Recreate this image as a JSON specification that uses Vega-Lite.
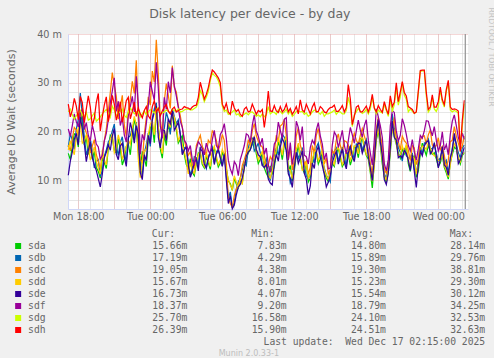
{
  "$schema": "https://vega.github.io/schema/vega-lite/v6.json",
  "background": "#F0F0F0",
  "padding": {"left": 5, "top": 6, "right": 0, "bottom": 0},
  "title": {"text": "Disk latency per device - by day", "font": "DejaVu Sans", "fontSize": 12.5, "fontWeight": "normal", "color": "#666666", "anchor": "middle", "offset": -13},
  "config": {
    "view": {"stroke": null},
    "axis": {"labelFont": "DejaVu Sans", "labelColor": "#666666", "labelFontSize": 9.7, "titleFont": "DejaVu Sans", "titleColor": "#666666", "titleFontWeight": "normal"}
  },
  "datasets": {
    "disk": [
      {"t":"2025-12-15T17:10","sda":15.5,"sdb":16.8,"sdc":17.2,"sdd":16.2,"sde":11.0,"sdf":20.5,"sdg":24.0,"sdh":25.6},
      {"t":"2025-12-15T17:20","sda":14.2,"sdb":19.5,"sdc":16.0,"sdd":18.1,"sde":13.9,"sdf":19.0,"sdg":24.6,"sdh":23.0},
      {"t":"2025-12-15T17:30","sda":17.0,"sdb":18.2,"sdc":18.5,"sdd":16.4,"sde":15.8,"sdf":21.2,"sdg":23.4,"sdh":24.3},
      {"t":"2025-12-15T17:40","sda":19.5,"sdb":16.3,"sdc":20.8,"sdd":15.2,"sde":18.4,"sdf":23.6,"sdg":22.5,"sdh":26.8},
      {"t":"2025-12-15T17:50","sda":19.2,"sdb":20.5,"sdc":20.3,"sdd":18.8,"sde":19.6,"sdf":22.0,"sdg":23.2,"sdh":25.2},
      {"t":"2025-12-15T18:00","sda":16.8,"sdb":22.4,"sdc":19.1,"sdd":20.7,"sde":17.2,"sdf":20.9,"sdg":23.8,"sdh":22.4},
      {"t":"2025-12-15T18:10","sda":24.0,"sdb":27.9,"sdc":22.6,"sdd":21.5,"sde":23.0,"sdf":23.8,"sdg":24.3,"sdh":27.2},
      {"t":"2025-12-15T18:20","sda":21.9,"sdb":23.1,"sdc":24.8,"sdd":17.6,"sde":20.4,"sdf":24.5,"sdg":23.5,"sdh":25.9},
      {"t":"2025-12-15T18:30","sda":17.2,"sdb":18.9,"sdc":21.0,"sdd":18.0,"sde":17.5,"sdf":20.4,"sdg":22.8,"sdh":21.8},
      {"t":"2025-12-15T18:40","sda":18.8,"sdb":15.2,"sdc":19.7,"sdd":19.4,"sde":13.8,"sdf":21.8,"sdg":23.9,"sdh":24.6},
      {"t":"2025-12-15T18:50","sda":15.3,"sdb":16.6,"sdc":18.4,"sdd":16.7,"sde":16.1,"sdf":19.2,"sdg":22.3,"sdh":27.3},
      {"t":"2025-12-15T19:00","sda":17.2,"sdb":18.4,"sdc":15.6,"sdd":14.1,"sde":17.8,"sdf":18.0,"sdg":22.6,"sdh":25.0},
      {"t":"2025-12-15T19:10","sda":14.3,"sdb":15.9,"sdc":17.0,"sdd":15.4,"sde":14.6,"sdf":21.3,"sdg":23.2,"sdh":21.2},
      {"t":"2025-12-15T19:20","sda":15.9,"sdb":12.5,"sdc":18.3,"sdd":16.8,"sde":13.1,"sdf":19.6,"sdg":23.8,"sdh":22.7},
      {"t":"2025-12-15T19:30","sda":12.6,"sdb":13.8,"sdc":15.2,"sdd":13.9,"sde":12.0,"sdf":17.4,"sdg":22.1,"sdh":25.9},
      {"t":"2025-12-15T19:40","sda":11.8,"sdb":14.2,"sdc":13.9,"sdd":12.4,"sde":10.3,"sdf":16.8,"sdg":22.5,"sdh":27.8},
      {"t":"2025-12-15T19:50","sda":10.4,"sdb":10.8,"sdc":12.3,"sdd":11.2,"sde":8.6,"sdf":14.3,"sdg":23.0,"sdh":20.1},
      {"t":"2025-12-15T20:00","sda":14.6,"sdb":11.9,"sdc":15.0,"sdd":16.2,"sde":11.2,"sdf":15.1,"sdg":23.6,"sdh":23.0},
      {"t":"2025-12-15T20:10","sda":13.5,"sdb":14.9,"sdc":18.1,"sdd":14.2,"sde":14.6,"sdf":18.0,"sdg":24.1,"sdh":25.4},
      {"t":"2025-12-15T20:20","sda":12.4,"sdb":16.2,"sdc":20.5,"sdd":13.1,"sde":15.7,"sdf":19.6,"sdg":24.5,"sdh":27.1},
      {"t":"2025-12-15T20:30","sda":16.5,"sdb":17.8,"sdc":24.2,"sdd":16.9,"sde":17.3,"sdf":22.4,"sdg":23.8,"sdh":22.0},
      {"t":"2025-12-15T20:40","sda":19.2,"sdb":18.6,"sdc":28.0,"sdd":18.4,"sde":16.1,"sdf":25.9,"sdg":22.9,"sdh":24.0},
      {"t":"2025-12-15T20:50","sda":18.7,"sdb":20.1,"sdc":32.1,"sdd":19.5,"sde":19.0,"sdf":28.3,"sdg":25.2,"sdh":27.4},
      {"t":"2025-12-15T21:00","sda":16.1,"sdb":21.5,"sdc":29.4,"sdd":15.6,"sde":20.6,"sdf":31.0,"sdg":24.4,"sdh":25.6},
      {"t":"2025-12-15T21:10","sda":15.6,"sdb":16.9,"sdc":27.2,"sdd":16.4,"sde":15.3,"sdf":24.1,"sdg":23.2,"sdh":22.3},
      {"t":"2025-12-15T21:20","sda":18.5,"sdb":15.1,"sdc":22.5,"sdd":19.3,"sde":14.2,"sdf":26.2,"sdg":23.7,"sdh":23.8},
      {"t":"2025-12-15T21:30","sda":16.4,"sdb":17.7,"sdc":25.0,"sdd":17.6,"sde":17.0,"sdf":21.2,"sdg":24.1,"sdh":26.1},
      {"t":"2025-12-15T21:40","sda":13.1,"sdb":18.9,"sdc":27.4,"sdd":14.2,"sde":17.6,"sdf":22.8,"sdg":24.6,"sdh":21.9},
      {"t":"2025-12-15T21:50","sda":14.4,"sdb":15.8,"sdc":21.3,"sdd":15.5,"sde":14.7,"sdf":19.3,"sdg":23.3,"sdh":24.0},
      {"t":"2025-12-15T22:00","sda":16.9,"sdb":13.7,"sdc":19.0,"sdd":16.9,"sde":12.8,"sdf":17.8,"sdg":22.9,"sdh":26.3},
      {"t":"2025-12-15T22:10","sda":17.4,"sdb":18.8,"sdc":24.1,"sdd":18.2,"sde":18.3,"sdf":23.2,"sdg":24.0,"sdh":27.0},
      {"t":"2025-12-15T22:20","sda":15.2,"sdb":19.1,"sdc":26.6,"sdd":17.4,"sde":21.8,"sdf":25.1,"sdg":24.8,"sdh":22.6},
      {"t":"2025-12-15T22:30","sda":19.5,"sdb":20.9,"sdc":30.3,"sdd":20.6,"sde":20.1,"sdf":27.2,"sdg":24.2,"sdh":24.1},
      {"t":"2025-12-15T22:40","sda":22.6,"sdb":18.4,"sdc":27.8,"sdd":23.1,"sde":17.6,"sdf":24.0,"sdg":23.6,"sdh":26.0},
      {"t":"2025-12-15T22:50","sda":20.3,"sdb":21.9,"sdc":34.6,"sdd":21.4,"sde":21.2,"sdf":31.3,"sdg":24.0,"sdh":23.1},
      {"t":"2025-12-15T23:00","sda":16.0,"sdb":17.2,"sdc":22.5,"sdd":14.3,"sde":19.4,"sdf":25.7,"sdg":24.1,"sdh":24.8},
      {"t":"2025-12-15T23:10","sda":12.1,"sdb":12.8,"sdc":14.2,"sdd":10.5,"sde":11.6,"sdf":15.3,"sdg":23.0,"sdh":23.6},
      {"t":"2025-12-15T23:20","sda":15.9,"sdb":11.0,"sdc":13.6,"sdd":13.9,"sde":10.1,"sdf":19.4,"sdg":23.6,"sdh":22.8},
      {"t":"2025-12-15T23:30","sda":14.5,"sdb":15.6,"sdc":19.4,"sdd":15.8,"sde":15.2,"sdf":18.2,"sdg":24.2,"sdh":24.3},
      {"t":"2025-12-15T23:40","sda":12.8,"sdb":17.3,"sdc":22.8,"sdd":16.4,"sde":14.0,"sdf":21.6,"sdg":23.4,"sdh":25.1},
      {"t":"2025-12-15T23:50","sda":18.6,"sdb":19.7,"sdc":27.1,"sdd":19.3,"sde":19.2,"sdf":25.3,"sdg":24.0,"sdh":23.2},
      {"t":"2025-12-16T00:00","sda":20.8,"sdb":16.9,"sdc":25.4,"sdd":21.5,"sde":17.5,"sdf":30.2,"sdg":24.5,"sdh":22.6},
      {"t":"2025-12-16T00:10","sda":21.3,"sdb":22.8,"sdc":32.4,"sdd":22.1,"sde":22.4,"sdf":28.2,"sdg":24.2,"sdh":25.1},
      {"t":"2025-12-16T00:20","sda":17.7,"sdb":24.6,"sdc":30.1,"sdd":19.3,"sde":23.9,"sdf":26.4,"sdg":23.8,"sdh":26.3},
      {"t":"2025-12-16T00:30","sda":24.1,"sdb":25.9,"sdc":38.8,"sdd":24.6,"sde":25.2,"sdf":34.2,"sdg":24.5,"sdh":24.0},
      {"t":"2025-12-16T00:40","sda":20.9,"sdb":19.8,"sdc":31.7,"sdd":21.0,"sde":18.8,"sdf":28.8,"sdg":24.9,"sdh":24.7},
      {"t":"2025-12-16T00:50","sda":16.4,"sdb":17.5,"sdc":22.3,"sdd":17.2,"sde":16.6,"sdf":21.1,"sdg":23.6,"sdh":23.2},
      {"t":"2025-12-16T01:00","sda":14.5,"sdb":19.0,"sdc":19.5,"sdd":15.4,"sde":20.3,"sdf":18.6,"sdg":23.8,"sdh":24.2},
      {"t":"2025-12-16T01:10","sda":19.3,"sdb":20.6,"sdc":26.2,"sdd":20.4,"sde":20.2,"sdf":27.0,"sdg":24.0,"sdh":25.0},
      {"t":"2025-12-16T01:20","sda":17.1,"sdb":23.9,"sdc":29.8,"sdd":18.2,"sde":18.1,"sdf":24.5,"sdg":24.4,"sdh":25.5},
      {"t":"2025-12-16T01:30","sda":21.4,"sdb":22.5,"sdc":27.4,"sdd":22.0,"sde":22.6,"sdf":30.2,"sdg":24.1,"sdh":24.2},
      {"t":"2025-12-16T01:40","sda":19.9,"sdb":19.4,"sdc":24.7,"sdd":20.8,"sde":21.6,"sdf":27.9,"sdg":23.7,"sdh":23.6},
      {"t":"2025-12-16T01:50","sda":23.5,"sdb":24.6,"sdc":33.5,"sdd":23.8,"sde":24.4,"sdf":33.1,"sdg":24.6,"sdh":24.6},
      {"t":"2025-12-16T02:00","sda":22.0,"sdb":23.1,"sdc":29.0,"sdd":22.9,"sde":20.2,"sdf":29.4,"sdg":24.2,"sdh":25.0},
      {"t":"2025-12-16T02:10","sda":20.3,"sdb":21.6,"sdc":28.1,"sdd":21.2,"sde":21.0,"sdf":27.3,"sdg":24.2,"sdh":24.0},
      {"t":"2025-12-16T02:20","sda":17.6,"sdb":22.4,"sdc":25.2,"sdd":18.1,"sde":21.9,"sdf":25.0,"sdg":24.6,"sdh":24.3},
      {"t":"2025-12-16T02:30","sda":18.4,"sdb":19.5,"sdc":23.2,"sdd":19.0,"sde":19.3,"sdf":22.1,"sdg":24.0,"sdh":24.5},
      {"t":"2025-12-16T02:40","sda":19.1,"sdb":15.8,"sdc":20.9,"sdd":17.2,"sde":15.2,"sdf":20.8,"sdg":24.1,"sdh":24.6},
      {"t":"2025-12-16T02:50","sda":15.3,"sdb":16.6,"sdc":18.3,"sdd":15.9,"sde":16.2,"sdf":18.2,"sdg":24.4,"sdh":25.1},
      {"t":"2025-12-16T03:00","sda":13.2,"sdb":16.9,"sdc":16.4,"sdd":14.0,"sde":16.8,"sdf":17.5,"sdg":24.6,"sdh":24.9},
      {"t":"2025-12-16T03:10","sda":12.4,"sdb":13.5,"sdc":15.1,"sdd":11.3,"sde":13.2,"sdf":16.0,"sdg":24.6,"sdh":24.8},
      {"t":"2025-12-16T03:20","sda":14.4,"sdb":11.0,"sdc":15.8,"sdd":13.6,"sde":10.6,"sdf":17.1,"sdg":24.4,"sdh":24.5},
      {"t":"2025-12-16T03:30","sda":11.6,"sdb":12.4,"sdc":13.2,"sdd":12.0,"sde":11.8,"sdf":14.2,"sdg":24.4,"sdh":25.0},
      {"t":"2025-12-16T03:40","sda":10.9,"sdb":14.8,"sdc":12.4,"sdd":11.4,"sde":13.6,"sdf":13.0,"sdg":24.7,"sdh":25.3},
      {"t":"2025-12-16T03:50","sda":13.5,"sdb":14.6,"sdc":17.1,"sdd":13.8,"sde":14.3,"sdf":16.3,"sdg":25.0,"sdh":25.4},
      {"t":"2025-12-16T04:00","sda":15.6,"sdb":12.8,"sdc":18.2,"sdd":15.2,"sde":11.9,"sdf":17.9,"sdg":25.9,"sdh":27.0},
      {"t":"2025-12-16T04:10","sda":15.4,"sdb":16.7,"sdc":19.2,"sdd":15.9,"sde":16.5,"sdf":17.3,"sdg":28.4,"sdh":30.1},
      {"t":"2025-12-16T04:20","sda":13.2,"sdb":16.9,"sdc":16.9,"sdd":13.6,"sde":15.9,"sdf":16.4,"sdg":27.6,"sdh":28.4},
      {"t":"2025-12-16T04:30","sda":12.5,"sdb":13.6,"sdc":16.1,"sdd":12.8,"sde":13.3,"sdf":15.2,"sdg":26.1,"sdh":26.6},
      {"t":"2025-12-16T04:40","sda":14.9,"sdb":12.4,"sdc":15.1,"sdd":15.6,"sde":12.5,"sdf":17.6,"sdg":27.0,"sdh":27.6},
      {"t":"2025-12-16T04:50","sda":13.6,"sdb":14.7,"sdc":18.2,"sdd":14.1,"sde":14.4,"sdf":16.1,"sdg":28.2,"sdh":29.0},
      {"t":"2025-12-16T05:00","sda":12.2,"sdb":15.9,"sdc":17.6,"sdd":12.8,"sde":15.8,"sdf":15.3,"sdg":30.5,"sdh":31.0},
      {"t":"2025-12-16T05:10","sda":15.5,"sdb":16.8,"sdc":20.1,"sdd":16.0,"sde":16.4,"sdf":18.3,"sdg":32.0,"sdh":32.6},
      {"t":"2025-12-16T05:20","sda":16.6,"sdb":13.5,"sdc":19.6,"sdd":17.0,"sde":13.2,"sdf":20.2,"sdg":31.5,"sdh":32.2},
      {"t":"2025-12-16T05:30","sda":14.4,"sdb":15.8,"sdc":18.2,"sdd":15.0,"sde":15.3,"sdf":17.1,"sdg":31.2,"sdh":31.6},
      {"t":"2025-12-16T05:40","sda":12.7,"sdb":16.4,"sdc":16.1,"sdd":13.2,"sde":16.2,"sdf":16.4,"sdg":30.4,"sdh":31.0},
      {"t":"2025-12-16T05:50","sda":13.5,"sdb":14.7,"sdc":17.3,"sdd":14.2,"sde":14.6,"sdf":19.4,"sdg":29.1,"sdh":30.0},
      {"t":"2025-12-16T06:00","sda":15.8,"sdb":12.9,"sdc":19.4,"sdd":16.3,"sde":12.8,"sdf":20.1,"sdg":25.2,"sdh":25.6},
      {"t":"2025-12-16T06:10","sda":14.6,"sdb":15.6,"sdc":18.1,"sdd":15.2,"sde":15.3,"sdf":21.6,"sdg":24.1,"sdh":24.6},
      {"t":"2025-12-16T06:20","sda":12.4,"sdb":10.9,"sdc":13.4,"sdd":12.1,"sde":10.1,"sdf":18.6,"sdg":24.4,"sdh":25.8},
      {"t":"2025-12-16T06:30","sda":9.8,"sdb":6.2,"sdc":6.4,"sdd":10.1,"sde":5.2,"sdf":14.1,"sdg":23.5,"sdh":24.0},
      {"t":"2025-12-16T06:40","sda":9.3,"sdb":7.6,"sdc":5.2,"sdd":9.0,"sde":6.8,"sdf":12.3,"sdg":23.7,"sdh":23.5},
      {"t":"2025-12-16T06:50","sda":7.9,"sdb":4.3,"sdc":4.4,"sdd":8.1,"sde":4.1,"sdf":11.2,"sdg":24.0,"sdh":26.2},
      {"t":"2025-12-16T07:00","sda":10.4,"sdb":5.4,"sdc":6.8,"sdd":10.9,"sde":4.9,"sdf":13.8,"sdg":24.4,"sdh":24.8},
      {"t":"2025-12-16T07:10","sda":9.2,"sdb":8.1,"sdc":8.2,"sdd":9.6,"sde":7.0,"sdf":13.1,"sdg":23.4,"sdh":24.1},
      {"t":"2025-12-16T07:20","sda":8.4,"sdb":9.6,"sdc":9.1,"sdd":8.3,"sde":8.6,"sdf":10.9,"sdg":23.6,"sdh":24.5},
      {"t":"2025-12-16T07:30","sda":10.1,"sdb":10.4,"sdc":10.3,"sdd":10.6,"sde":9.1,"sdf":14.2,"sdg":23.0,"sdh":23.5},
      {"t":"2025-12-16T07:40","sda":9.4,"sdb":12.1,"sdc":13.0,"sdd":9.1,"sde":10.5,"sdf":15.6,"sdg":23.2,"sdh":23.1},
      {"t":"2025-12-16T07:50","sda":12.7,"sdb":13.6,"sdc":14.2,"sdd":13.1,"sde":12.4,"sdf":17.1,"sdg":23.5,"sdh":24.6},
      {"t":"2025-12-16T08:00","sda":14.5,"sdb":13.0,"sdc":15.6,"sdd":14.8,"sde":14.9,"sdf":19.5,"sdg":23.8,"sdh":25.0},
      {"t":"2025-12-16T08:10","sda":15.6,"sdb":16.5,"sdc":18.3,"sdd":16.1,"sde":15.8,"sdf":19.2,"sdg":23.4,"sdh":24.0},
      {"t":"2025-12-16T08:20","sda":16.3,"sdb":18.4,"sdc":17.1,"sdd":17.0,"sde":16.2,"sdf":17.8,"sdg":23.9,"sdh":24.2},
      {"t":"2025-12-16T08:30","sda":17.4,"sdb":18.6,"sdc":20.2,"sdd":18.0,"sde":17.7,"sdf":21.3,"sdg":24.0,"sdh":25.6},
      {"t":"2025-12-16T08:40","sda":18.2,"sdb":16.0,"sdc":21.6,"sdd":18.9,"sde":18.9,"sdf":23.4,"sdg":23.6,"sdh":24.6},
      {"t":"2025-12-16T08:50","sda":15.4,"sdb":16.7,"sdc":19.1,"sdd":16.2,"sde":16.3,"sdf":20.1,"sdg":23.1,"sdh":23.5},
      {"t":"2025-12-16T09:00","sda":13.4,"sdb":17.6,"sdc":18.0,"sdd":14.1,"sde":15.2,"sdf":19.0,"sdg":23.4,"sdh":24.3},
      {"t":"2025-12-16T09:10","sda":14.3,"sdb":15.6,"sdc":17.2,"sdd":15.1,"sde":14.8,"sdf":17.2,"sdg":23.0,"sdh":24.0},
      {"t":"2025-12-16T09:20","sda":15.5,"sdb":13.1,"sdc":16.8,"sdd":15.9,"sde":13.0,"sdf":18.6,"sdg":23.6,"sdh":24.5},
      {"t":"2025-12-16T09:30","sda":12.5,"sdb":13.4,"sdc":15.1,"sdd":13.2,"sde":12.6,"sdf":15.3,"sdg":23.0,"sdh":20.8},
      {"t":"2025-12-16T09:40","sda":11.4,"sdb":14.4,"sdc":12.6,"sdd":12.6,"sde":13.2,"sdf":16.6,"sdg":23.4,"sdh":23.9},
      {"t":"2025-12-16T09:50","sda":10.6,"sdb":11.5,"sdc":13.2,"sdd":11.1,"sde":10.2,"sdf":13.1,"sdg":25.1,"sdh":28.3},
      {"t":"2025-12-16T10:00","sda":12.9,"sdb":9.9,"sdc":14.8,"sdd":10.4,"sde":9.4,"sdf":11.6,"sdg":23.6,"sdh":24.2},
      {"t":"2025-12-16T10:10","sda":11.4,"sdb":12.3,"sdc":14.1,"sdd":12.0,"sde":9.0,"sdf":14.2,"sdg":24.0,"sdh":24.1},
      {"t":"2025-12-16T10:20","sda":12.7,"sdb":14.8,"sdc":15.7,"sdd":14.2,"sde":13.4,"sdf":17.4,"sdg":23.9,"sdh":25.3},
      {"t":"2025-12-16T10:30","sda":15.4,"sdb":16.6,"sdc":19.2,"sdd":16.1,"sde":15.3,"sdf":18.1,"sdg":23.5,"sdh":24.2},
      {"t":"2025-12-16T10:40","sda":17.8,"sdb":15.1,"sdc":17.9,"sdd":18.6,"sde":13.9,"sdf":21.9,"sdg":24.4,"sdh":23.9},
      {"t":"2025-12-16T10:50","sda":16.6,"sdb":17.7,"sdc":21.1,"sdd":17.2,"sde":16.8,"sdf":20.2,"sdg":24.1,"sdh":25.1},
      {"t":"2025-12-16T11:00","sda":14.2,"sdb":19.4,"sdc":21.5,"sdd":15.1,"sde":18.6,"sdf":18.6,"sdg":23.6,"sdh":24.0},
      {"t":"2025-12-16T11:10","sda":17.3,"sdb":18.8,"sdc":22.4,"sdd":18.1,"sde":17.6,"sdf":22.5,"sdg":24.0,"sdh":24.5},
      {"t":"2025-12-16T11:20","sda":18.4,"sdb":16.4,"sdc":19.2,"sdd":19.1,"sde":16.0,"sdf":22.8,"sdg":24.5,"sdh":25.6},
      {"t":"2025-12-16T11:30","sda":11.6,"sdb":12.8,"sdc":14.2,"sdd":12.3,"sde":11.3,"sdf":14.1,"sdg":23.6,"sdh":24.0},
      {"t":"2025-12-16T11:40","sda":13.0,"sdb":9.4,"sdc":16.6,"sdd":12.0,"sde":10.4,"sdf":17.7,"sdg":24.2,"sdh":24.7},
      {"t":"2025-12-16T11:50","sda":9.8,"sdb":10.4,"sdc":12.1,"sdd":10.3,"sde":8.5,"sdf":13.2,"sdg":23.1,"sdh":23.5},
      {"t":"2025-12-16T12:00","sda":11.9,"sdb":13.2,"sdc":14.0,"sdd":12.8,"sde":12.6,"sdf":15.6,"sdg":23.5,"sdh":24.2},
      {"t":"2025-12-16T12:10","sda":15.3,"sdb":16.6,"sdc":19.1,"sdd":16.2,"sde":15.7,"sdf":22.1,"sdg":24.1,"sdh":25.1},
      {"t":"2025-12-16T12:20","sda":17.0,"sdb":14.4,"sdc":20.8,"sdd":17.6,"sde":13.4,"sdf":20.8,"sdg":24.2,"sdh":23.6},
      {"t":"2025-12-16T12:30","sda":14.4,"sdb":15.5,"sdc":17.2,"sdd":15.1,"sde":14.6,"sdf":18.2,"sdg":24.0,"sdh":26.5},
      {"t":"2025-12-16T12:40","sda":12.3,"sdb":16.7,"sdc":15.7,"sdd":12.0,"sde":16.0,"sdf":21.0,"sdg":24.1,"sdh":24.4},
      {"t":"2025-12-16T12:50","sda":11.5,"sdb":12.6,"sdc":13.3,"sdd":12.2,"sde":11.4,"sdf":15.1,"sdg":23.5,"sdh":24.0},
      {"t":"2025-12-16T13:00","sda":13.8,"sdb":10.9,"sdc":13.9,"sdd":13.8,"sde":10.2,"sdf":14.8,"sdg":23.8,"sdh":25.6},
      {"t":"2025-12-16T13:10","sda":9.6,"sdb":10.3,"sdc":11.2,"sdd":10.4,"sde":7.0,"sdf":13.3,"sdg":23.1,"sdh":24.6},
      {"t":"2025-12-16T13:20","sda":10.4,"sdb":11.2,"sdc":12.6,"sdd":11.2,"sde":8.8,"sdf":16.7,"sdg":23.4,"sdh":23.6},
      {"t":"2025-12-16T13:30","sda":13.4,"sdb":14.6,"sdc":17.1,"sdd":14.2,"sde":13.5,"sdf":18.2,"sdg":24.0,"sdh":25.0},
      {"t":"2025-12-16T13:40","sda":16.0,"sdb":13.5,"sdc":15.6,"sdd":15.8,"sde":12.4,"sdf":17.4,"sdg":24.4,"sdh":25.8},
      {"t":"2025-12-16T13:50","sda":15.5,"sdb":16.7,"sdc":19.2,"sdd":16.1,"sde":15.8,"sdf":20.3,"sdg":24.1,"sdh":24.0},
      {"t":"2025-12-16T14:00","sda":13.3,"sdb":17.6,"sdc":20.6,"sdd":14.0,"sde":16.9,"sdf":21.8,"sdg":23.9,"sdh":24.1},
      {"t":"2025-12-16T14:10","sda":14.4,"sdb":15.6,"sdc":18.1,"sdd":15.0,"sde":14.7,"sdf":19.1,"sdg":23.5,"sdh":25.1},
      {"t":"2025-12-16T14:20","sda":15.6,"sdb":13.8,"sdc":16.0,"sdd":16.3,"sde":13.0,"sdf":17.4,"sdg":24.1,"sdh":24.7},
      {"t":"2025-12-16T14:30","sda":11.6,"sdb":12.5,"sdc":13.3,"sdd":12.1,"sde":11.2,"sdf":14.2,"sdg":23.1,"sdh":24.0},
      {"t":"2025-12-16T14:40","sda":10.4,"sdb":11.0,"sdc":14.6,"sdd":11.0,"sde":8.6,"sdf":15.6,"sdg":23.6,"sdh":23.8},
      {"t":"2025-12-16T14:50","sda":9.7,"sdb":10.4,"sdc":11.3,"sdd":10.2,"sde":9.6,"sdf":12.3,"sdg":23.6,"sdh":24.5},
      {"t":"2025-12-16T15:00","sda":12.1,"sdb":9.6,"sdc":12.1,"sdd":11.4,"sde":10.9,"sdf":12.5,"sdg":23.8,"sdh":24.9},
      {"t":"2025-12-16T15:10","sda":13.5,"sdb":14.6,"sdc":16.1,"sdd":14.0,"sde":13.6,"sdf":17.2,"sdg":24.0,"sdh":25.0},
      {"t":"2025-12-16T15:20","sda":12.8,"sdb":15.9,"sdc":15.4,"sdd":13.2,"sde":14.9,"sdf":19.9,"sdg":24.4,"sdh":25.4},
      {"t":"2025-12-16T15:30","sda":15.4,"sdb":16.6,"sdc":18.2,"sdd":16.1,"sde":15.9,"sdf":19.1,"sdg":23.5,"sdh":24.1},
      {"t":"2025-12-16T15:40","sda":16.6,"sdb":13.8,"sdc":19.5,"sdd":16.8,"sde":13.3,"sdf":16.7,"sdg":24.0,"sdh":24.1},
      {"t":"2025-12-16T15:50","sda":14.6,"sdb":15.5,"sdc":17.1,"sdd":15.2,"sde":14.8,"sdf":18.3,"sdg":24.0,"sdh":24.6},
      {"t":"2025-12-16T16:00","sda":12.8,"sdb":16.8,"sdc":15.6,"sdd":13.2,"sde":16.4,"sdf":20.2,"sdg":23.6,"sdh":25.3},
      {"t":"2025-12-16T16:10","sda":13.5,"sdb":14.6,"sdc":18.1,"sdd":14.0,"sde":13.7,"sdf":17.2,"sdg":23.6,"sdh":24.0},
      {"t":"2025-12-16T16:20","sda":15.6,"sdb":12.9,"sdc":17.9,"sdd":15.8,"sde":12.3,"sdf":15.4,"sdg":24.3,"sdh":24.9},
      {"t":"2025-12-16T16:30","sda":15.4,"sdb":16.5,"sdc":17.2,"sdd":16.0,"sde":15.6,"sdf":18.1,"sdg":27.0,"sdh":29.6},
      {"t":"2025-12-16T16:40","sda":13.1,"sdb":16.9,"sdc":15.0,"sdd":14.1,"sde":16.9,"sdf":20.8,"sdg":25.3,"sdh":26.7},
      {"t":"2025-12-16T16:50","sda":14.5,"sdb":15.6,"sdc":18.1,"sdd":15.1,"sde":14.9,"sdf":19.3,"sdg":21.0,"sdh":21.4},
      {"t":"2025-12-16T17:00","sda":16.9,"sdb":14.4,"sdc":19.6,"sdd":17.0,"sde":13.8,"sdf":17.6,"sdg":23.4,"sdh":23.1},
      {"t":"2025-12-16T17:10","sda":16.4,"sdb":17.5,"sdc":18.2,"sdd":17.0,"sde":16.7,"sdf":20.1,"sdg":24.0,"sdh":25.0},
      {"t":"2025-12-16T17:20","sda":14.6,"sdb":16.4,"sdc":17.4,"sdd":15.4,"sde":17.6,"sdf":22.3,"sdg":24.7,"sdh":25.3},
      {"t":"2025-12-16T17:30","sda":17.6,"sdb":18.6,"sdc":19.2,"sdd":18.1,"sde":17.5,"sdf":20.3,"sdg":24.1,"sdh":24.0},
      {"t":"2025-12-16T17:40","sda":18.8,"sdb":16.0,"sdc":20.6,"sdd":19.0,"sde":15.5,"sdf":18.8,"sdg":23.7,"sdh":24.0},
      {"t":"2025-12-16T17:50","sda":16.5,"sdb":17.6,"sdc":19.1,"sdd":17.1,"sde":16.8,"sdf":21.2,"sdg":24.0,"sdh":24.6},
      {"t":"2025-12-16T18:00","sda":15.1,"sdb":18.4,"sdc":17.7,"sdd":15.2,"sde":18.2,"sdf":22.4,"sdg":24.5,"sdh":25.2},
      {"t":"2025-12-16T18:10","sda":14.3,"sdb":15.6,"sdc":16.1,"sdd":15.0,"sde":14.8,"sdf":18.2,"sdg":23.6,"sdh":24.0},
      {"t":"2025-12-16T18:20","sda":11.6,"sdb":13.1,"sdc":13.4,"sdd":11.9,"sde":12.4,"sdf":15.6,"sdg":24.6,"sdh":25.3},
      {"t":"2025-12-16T18:30","sda":8.4,"sdb":10.6,"sdc":11.2,"sdd":9.8,"sde":9.9,"sdf":13.1,"sdg":27.0,"sdh":27.6},
      {"t":"2025-12-16T18:40","sda":13.4,"sdb":15.0,"sdc":16.1,"sdd":12.9,"sde":14.2,"sdf":18.2,"sdg":24.9,"sdh":24.8},
      {"t":"2025-12-16T18:50","sda":18.2,"sdb":19.8,"sdc":20.3,"sdd":18.6,"sde":19.3,"sdf":24.6,"sdg":23.6,"sdh":24.0},
      {"t":"2025-12-16T19:00","sda":20.2,"sdb":22.4,"sdc":23.0,"sdd":20.6,"sde":22.5,"sdf":23.0,"sdg":24.4,"sdh":25.3},
      {"t":"2025-12-16T19:10","sda":17.3,"sdb":18.7,"sdc":19.2,"sdd":17.6,"sde":17.9,"sdf":21.2,"sdg":24.0,"sdh":24.5},
      {"t":"2025-12-16T19:20","sda":13.3,"sdb":15.4,"sdc":17.1,"sdd":14.2,"sde":15.0,"sdf":18.8,"sdg":23.8,"sdh":23.9},
      {"t":"2025-12-16T19:30","sda":10.6,"sdb":11.3,"sdc":12.2,"sdd":11.0,"sde":10.1,"sdf":13.4,"sdg":25.5,"sdh":26.1},
      {"t":"2025-12-16T19:40","sda":9.5,"sdb":10.4,"sdc":11.4,"sdd":10.0,"sde":9.1,"sdf":11.9,"sdg":24.3,"sdh":24.6},
      {"t":"2025-12-16T19:50","sda":11.6,"sdb":12.4,"sdc":13.1,"sdd":12.0,"sde":11.5,"sdf":14.2,"sdg":23.1,"sdh":23.5},
      {"t":"2025-12-16T20:00","sda":15.6,"sdb":17.9,"sdc":18.4,"sdd":16.1,"sde":16.6,"sdf":21.1,"sdg":26.6,"sdh":27.3},
      {"t":"2025-12-16T20:10","sda":21.2,"sdb":23.6,"sdc":20.2,"sdd":21.4,"sde":22.1,"sdf":24.3,"sdg":24.0,"sdh":25.1},
      {"t":"2025-12-16T20:20","sda":19.0,"sdb":20.6,"sdc":22.9,"sdd":19.9,"sde":18.8,"sdf":23.9,"sdg":25.5,"sdh":26.0},
      {"t":"2025-12-16T20:30","sda":17.4,"sdb":18.6,"sdc":18.1,"sdd":17.6,"sde":18.2,"sdf":20.1,"sdg":29.2,"sdh":30.0},
      {"t":"2025-12-16T20:40","sda":15.6,"sdb":16.7,"sdc":17.9,"sdd":15.1,"sde":14.6,"sdf":18.0,"sdg":25.4,"sdh":26.1},
      {"t":"2025-12-16T20:50","sda":14.5,"sdb":15.7,"sdc":16.2,"sdd":15.0,"sde":15.0,"sdf":19.2,"sdg":27.1,"sdh":28.1},
      {"t":"2025-12-16T21:00","sda":16.4,"sdb":13.9,"sdc":19.0,"sdd":17.0,"sde":14.6,"sdf":22.6,"sdg":30.0,"sdh":30.2},
      {"t":"2025-12-16T21:10","sda":15.4,"sdb":16.6,"sdc":18.1,"sdd":15.8,"sde":16.1,"sdf":21.3,"sdg":27.4,"sdh":28.0},
      {"t":"2025-12-16T21:20","sda":17.0,"sdb":15.0,"sdc":17.6,"sdd":17.4,"sde":15.5,"sdf":19.4,"sdg":26.6,"sdh":27.3},
      {"t":"2025-12-16T21:30","sda":13.4,"sdb":14.6,"sdc":16.2,"sdd":14.0,"sde":14.1,"sdf":17.1,"sdg":24.0,"sdh":25.1},
      {"t":"2025-12-16T21:40","sda":11.8,"sdb":14.5,"sdc":14.0,"sdd":12.8,"sde":12.0,"sdf":16.0,"sdg":24.6,"sdh":24.8},
      {"t":"2025-12-16T21:50","sda":14.5,"sdb":15.6,"sdc":17.1,"sdd":15.0,"sde":15.2,"sdf":18.3,"sdg":24.1,"sdh":24.5},
      {"t":"2025-12-16T22:00","sda":15.0,"sdb":12.2,"sdc":16.6,"sdd":14.4,"sde":11.8,"sdf":15.8,"sdg":23.7,"sdh":23.7},
      {"t":"2025-12-16T22:10","sda":10.6,"sdb":11.4,"sdc":13.2,"sdd":11.2,"sde":8.5,"sdf":14.1,"sdg":24.0,"sdh":24.0},
      {"t":"2025-12-16T22:20","sda":11.9,"sdb":13.8,"sdc":14.4,"sdd":13.4,"sde":13.0,"sdf":16.4,"sdg":27.8,"sdh":28.3},
      {"t":"2025-12-16T22:30","sda":15.4,"sdb":16.7,"sdc":18.2,"sdd":16.1,"sde":16.0,"sdf":19.2,"sdg":32.3,"sdh":32.5},
      {"t":"2025-12-16T22:40","sda":17.6,"sdb":15.4,"sdc":19.0,"sdd":17.0,"sde":15.0,"sdf":18.6,"sdg":32.4,"sdh":32.6},
      {"t":"2025-12-16T22:50","sda":16.3,"sdb":17.6,"sdc":19.1,"sdd":16.8,"sde":17.0,"sdf":20.1,"sdg":32.5,"sdh":32.6},
      {"t":"2025-12-16T23:00","sda":15.1,"sdb":17.9,"sdc":17.4,"sdd":16.3,"sde":17.8,"sdf":22.2,"sdg":27.3,"sdh":28.0},
      {"t":"2025-12-16T23:10","sda":17.2,"sdb":18.5,"sdc":19.3,"sdd":17.6,"sde":18.1,"sdf":22.1,"sdg":24.0,"sdh":24.5},
      {"t":"2025-12-16T23:20","sda":16.0,"sdb":16.5,"sdc":20.3,"sdd":16.6,"sde":15.4,"sdf":20.5,"sdg":24.6,"sdh":25.0},
      {"t":"2025-12-16T23:30","sda":15.3,"sdb":16.4,"sdc":17.2,"sdd":15.6,"sde":16.0,"sdf":19.1,"sdg":27.0,"sdh":27.5},
      {"t":"2025-12-16T23:40","sda":15.6,"sdb":17.4,"sdc":16.8,"sdd":15.0,"sde":17.7,"sdf":21.0,"sdg":24.6,"sdh":25.0},
      {"t":"2025-12-16T23:50","sda":14.4,"sdb":15.5,"sdc":17.1,"sdd":15.0,"sde":15.0,"sdf":18.2,"sdg":24.1,"sdh":25.0},
      {"t":"2025-12-17T00:00","sda":12.8,"sdb":13.9,"sdc":18.7,"sdd":14.0,"sde":12.5,"sdf":16.0,"sdg":25.1,"sdh":26.1},
      {"t":"2025-12-17T00:10","sda":13.5,"sdb":14.6,"sdc":16.2,"sdd":14.0,"sde":14.2,"sdf":17.1,"sdg":28.6,"sdh":29.1},
      {"t":"2025-12-17T00:20","sda":15.2,"sdb":16.2,"sdc":16.9,"sdd":15.4,"sde":16.9,"sdf":19.9,"sdg":26.1,"sdh":26.5},
      {"t":"2025-12-17T00:30","sda":12.6,"sdb":13.5,"sdc":15.1,"sdd":13.0,"sde":13.1,"sdf":16.2,"sdg":25.0,"sdh":25.5},
      {"t":"2025-12-17T00:40","sda":11.5,"sdb":14.1,"sdc":12.5,"sdd":12.0,"sde":12.6,"sdf":17.3,"sdg":28.2,"sdh":28.6},
      {"t":"2025-12-17T00:50","sda":10.2,"sdb":11.4,"sdc":14.1,"sdd":10.6,"sde":11.0,"sdf":15.2,"sdg":30.0,"sdh":30.5},
      {"t":"2025-12-17T01:00","sda":13.6,"sdb":13.8,"sdc":17.9,"sdd":13.2,"sde":14.6,"sdf":19.4,"sdg":24.4,"sdh":25.0},
      {"t":"2025-12-17T01:10","sda":15.3,"sdb":16.6,"sdc":18.2,"sdd":15.8,"sde":16.1,"sdf":22.1,"sdg":24.0,"sdh":24.5},
      {"t":"2025-12-17T01:20","sda":16.8,"sdb":18.6,"sdc":21.0,"sdd":17.5,"sde":19.6,"sdf":23.4,"sdg":24.3,"sdh":24.6},
      {"t":"2025-12-17T01:30","sda":16.4,"sdb":17.5,"sdc":19.1,"sdd":16.8,"sde":17.2,"sdf":21.2,"sdg":24.1,"sdh":24.5},
      {"t":"2025-12-17T01:40","sda":14.4,"sdb":15.6,"sdc":17.6,"sdd":14.7,"sde":13.4,"sdf":18.8,"sdg":23.8,"sdh":24.2},
      {"t":"2025-12-17T01:50","sda":13.3,"sdb":14.6,"sdc":16.1,"sdd":13.8,"sde":14.2,"sdf":17.3,"sdg":16.6,"sdh":15.9},
      {"t":"2025-12-17T02:00","sda":15.1,"sdb":16.6,"sdc":17.0,"sdd":15.4,"sde":15.4,"sdf":19.7,"sdg":21.0,"sdh":22.3},
      {"t":"2025-12-17T02:10","sda":15.66,"sdb":17.19,"sdc":19.05,"sdd":15.67,"sde":16.73,"sdf":18.37,"sdg":25.7,"sdh":26.39}
    ],
    "tbl": [
      {"row":"sda","cur":"15.66m","min":"7.83m","avg":"14.80m","max":"28.14m"},
      {"row":"sdb","cur":"17.19m","min":"4.29m","avg":"15.89m","max":"29.76m"},
      {"row":"sdc","cur":"19.05m","min":"4.38m","avg":"19.30m","max":"38.81m"},
      {"row":"sdd","cur":"15.67m","min":"8.01m","avg":"15.23m","max":"29.30m"},
      {"row":"sde","cur":"16.73m","min":"4.07m","avg":"15.54m","max":"30.12m"},
      {"row":"sdf","cur":"18.37m","min":"9.20m","avg":"18.79m","max":"34.25m"},
      {"row":"sdg","cur":"25.70m","min":"16.58m","avg":"24.10m","max":"32.53m"},
      {"row":"sdh","cur":"26.39m","min":"15.90m","avg":"24.51m","max":"32.63m"}
    ]
  },
  "spacing": 8,
  "vconcat": [
    {
      "width": 400,
      "height": 175,
      "view": {"fill": "#FFFFFF", "stroke": null},
      "resolve": {"axis": {"x": "independent", "y": "independent"}},
      "layer": [
        {
          "data": {"values": [{"t": "2025-12-16T12:00", "v": 20}]},
          "mark": {"type": "point", "opacity": 0},
          "encoding": {
            "x": {"field": "t", "type": "temporal",
              "scale": {"domain": [{"year":2025,"month":12,"date":15,"hours":17,"minutes":8,"seconds":30},{"year":2025,"month":12,"date":17,"hours":2,"minutes":28,"seconds":30}]},
              "axis": {"orient": "top", "title": null, "tickCount": 34, "labels": false, "ticks": false, "domain": false, "grid": true, "gridDash": [1,1], "gridColor": "#CFCFCF"}},
            "y": {"field": "v", "type": "quantitative", "scale": {"domain": [4.07, 40], "nice": false, "zero": false},
              "axis": {"orient": "right", "title": "RRDTOOL / TOBI OETIKER", "titleFontSize": 7.7, "titleColor": "#C4C4C4", "titleAngle": 90, "titleAlign": "left", "titleBaseline": "middle", "titleX": 22, "titleY": -27, "values": [6,8,12,14,16,18,22,24,26,28,32,34,36,38], "labels": false, "ticks": false, "domain": false, "grid": true, "gridDash": [1,1], "gridColor": "#CFCFCF"}}
          }
        },
        {
          "data": {"name": "disk"},
          "transform": [{"fold": ["sda","sdb","sdc","sdd","sde","sdf","sdg","sdh"], "as": ["device","wait"]}],
          "mark": {"type": "line", "strokeWidth": 1.25},
          "encoding": {
            "x": {"field": "t", "type": "temporal",
              "scale": {"domain": [{"year":2025,"month":12,"date":15,"hours":17,"minutes":8,"seconds":30},{"year":2025,"month":12,"date":17,"hours":2,"minutes":28,"seconds":30}]},
              "axis": {"orient": "bottom", "title": null, "tickCount": 11, "labelExpr": "(timeFormat(datum.value, '%H') == '00' || timeFormat(datum.value, '%H') == '06' || timeFormat(datum.value, '%H') == '12' || timeFormat(datum.value, '%H') == '18') ? timeFormat(datum.value, '%a %H:%M') : ''", "labelOverlap": false, "labelFlush": false, "labelPadding": 2, "ticks": false, "grid": true, "gridDash": [1,1], "gridColor": "#EBAFAF", "domainColor": "#CFD6F8"}},
            "y": {"field": "wait", "type": "quantitative",
              "scale": {"domain": [4.07, 40], "nice": false, "zero": false},
              "axis": {"orient": "left", "title": "Average IO Wait (seconds)", "titleFontSize": 11, "titlePadding": 20, "values": [10,20,30,40], "labelExpr": "datum.value + ' m'", "labelOverlap": false, "labelPadding": 6.5, "ticks": false, "grid": true, "gridDash": [1,1], "gridColor": "#EBAFAF", "domainColor": "#CFD6F8"}},
            "color": {"field": "device", "type": "nominal",
              "scale": {"domain": ["sda","sdb","sdc","sdd","sde","sdf","sdg","sdh"], "range": ["#00CC00","#0066B3","#FF8000","#FFCC00","#330099","#990099","#CCFF00","#FF0000"]},
              "legend": null}
          }
        },
        {
          "data": {"values": [{"t": "2025-12-17T02:15"}]},
          "mark": {"type": "rule", "color": "#999999", "strokeWidth": 1.3},
          "encoding": {"x": {"field": "t", "type": "temporal", "axis": null}}
        }
      ]
    },
    {
      "width": 416.2,
      "height": 120,
      "view": {"fill": "#F0F0F0", "stroke": null},
      "encoding": {
        "y": {"field": "row", "type": "nominal", "scale": {"type": "point", "domain": ["hdr","sda","sdb","sdc","sdd","sde","sdf","sdg","sdh","upd","ver"], "padding": 0}, "axis": null}
      },
      "layer": [
        {
          "data": {"name": "tbl"},
          "mark": {"type": "square", "size": 36, "filled": true, "opacity": 1, "xOffset": -168.2},
          "encoding": {
            "x": {"datum": "cur", "type": "nominal", "scale": {"type": "point", "domain": ["cur","min","avg","max"], "padding": 0.596, "align": 1}, "axis": null},
            "color": {"field": "row", "type": "nominal", "scale": {"domain": ["sda","sdb","sdc","sdd","sde","sdf","sdg","sdh"], "range": ["#00CC00","#0066B3","#FF8000","#FFCC00","#330099","#990099","#CCFF00","#FF0000"]}, "legend": null}
          }
        },
        {
          "data": {"name": "tbl"},
          "mark": {"type": "text", "align": "left", "baseline": "middle", "dx": -158.3, "font": "DejaVu Sans Mono", "fontSize": 9.7, "color": "#666666"},
          "encoding": {
            "x": {"datum": "cur", "type": "nominal"},
            "text": {"field": "row", "type": "nominal"}
          }
        },
        {
          "data": {"name": "tbl"},
          "transform": [{"fold": ["cur","min","avg","max"], "as": ["col","txt"]}],
          "mark": {"type": "text", "align": "right", "baseline": "middle", "dx": 1, "font": "DejaVu Sans Mono", "fontSize": 9.7, "color": "#666666"},
          "encoding": {
            "x": {"field": "col", "type": "nominal"},
            "text": {"field": "txt", "type": "nominal"}
          }
        },
        {
          "data": {"values": [
            {"row": "hdr", "col": "cur", "txt": "Cur:"},
            {"row": "hdr", "col": "min", "txt": "Min:"},
            {"row": "hdr", "col": "avg", "txt": "Avg:"},
            {"row": "hdr", "col": "max", "txt": "Max:"}
          ]},
          "mark": {"type": "text", "align": "left", "baseline": "middle", "dx": -34.5, "font": "DejaVu Sans Mono", "fontSize": 9.7, "color": "#666666"},
          "encoding": {
            "x": {"field": "col", "type": "nominal"},
            "text": {"field": "txt", "type": "nominal"}
          }
        },
        {
          "data": {"values": [{"row": "upd", "col": "max", "txt": "Last update:\u00a0 Wed Dec 17 02:15:00 2025"}]},
          "mark": {"type": "text", "align": "right", "baseline": "middle", "dx": 1, "font": "DejaVu Sans Mono", "fontSize": 9.7, "color": "#666666"},
          "encoding": {
            "x": {"field": "col", "type": "nominal"},
            "text": {"field": "txt", "type": "nominal"}
          }
        },
        {
          "data": {"values": [{"row": "ver", "col": "min", "txt": "Munin 2.0.33-1"}]},
          "mark": {"type": "text", "align": "center", "baseline": "middle", "dx": -36.8, "font": "DejaVu Sans", "fontSize": 8, "color": "#BDBDBD"},
          "encoding": {
            "x": {"field": "col", "type": "nominal"},
            "text": {"field": "txt", "type": "nominal"}
          }
        }
      ]
    }
  ]
}
